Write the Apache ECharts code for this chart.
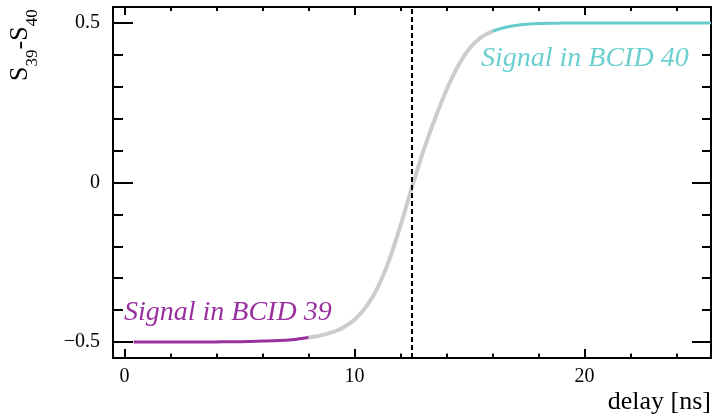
<!DOCTYPE html>
<html>
<head>
<meta charset="utf-8">
<script src="https://cdn.jsdelivr.net/npm/echarts@6/dist/echarts.min.js"></script>
<style>
html,body{margin:0;padding:0;background:#fff;}
#c{width:713px;height:416px;}
</style>
</head>
<body>
<div id="c"></div>
<script>
// ---- data ----
const delay = [0.4,1,1.5,2,2.5,3,3.5,4,4.5,5,5.5,6,6.5,7,7.5,8,8.5,9,9.5,10,10.5,11,11.5,12,12.5,13,13.5,14,14.5,15,15.5,16,16.5,17,17.5,18,18.5,19,19.5,20,20.5,21,21.5,22,22.5,23,23.5,24,24.5,25,25.5];
const signalDiff = [-0.5,-0.5,-0.5,-0.5,-0.5,-0.5,-0.4995,-0.4995,-0.499,-0.499,-0.498,-0.497,-0.496,-0.494,-0.491,-0.486,-0.48,-0.47,-0.455,-0.43,-0.39,-0.33,-0.245,-0.135,-0.015,0.1,0.2,0.29,0.365,0.42,0.455,0.474,0.485,0.492,0.496,0.498,0.499,0.4995,0.5,0.5,0.5,0.5,0.5,0.5,0.5,0.5,0.5,0.5,0.5,0.5,0.5];
const bcid39End = 8;     // end of "Signal in BCID 39" region
const bcid40Start = 16;  // start of "Signal in BCID 40" region
const thresholdDelay = 12.5;
const xMajorTicks = [0,10,20];
const xMinorTicks = [2,4,6,8,12,14,16,18,22,24];
const yMajorTicks = [-0.5,0,0.5];
const yMinorTicks = [-0.4,-0.3,-0.2,-0.1,0.1,0.2,0.3,0.4];
const xLabel = 'delay [ns]';
const label39 = 'Signal in BCID 39';
const label40 = 'Signal in BCID 40';

const pts = delay.map((d,i)=>[d, signalDiff[i]]);
const seg39 = pts.filter(p=>p[0] <= bcid39End);
const segMid = pts.filter(p=>p[0] >= bcid39End && p[0] <= bcid40Start);
const seg40 = pts.filter(p=>p[0] >= bcid40Start);

const FONT = '"Liberation Serif", "Times New Roman", serif';
const gridRect = {left:113, right:2, top:7, bottom:58};
const XMIN=-0.5, XMAX=25.5, YMIN=-0.55, YMAX=0.55;
const fmt = v => v < 0 ? '\u2212' + String(Math.abs(v)) : String(v);

function xAx(grid, pos, vals, len, showLine, showLabel){
  return {
    type:'value', gridIndex:grid, position:pos, min:XMIN, max:XMAX,
    axisLine:{show:showLine, onZero:false, lineStyle:{color:'#000', width:2}},
    axisTick:{show:true, inside:true, length:len, customValues:vals, lineStyle:{color:'#000', width:2}},
    axisLabel:{show:showLabel, customValues:vals, formatter:fmt, color:'#000', fontFamily:FONT, fontSize:20, margin:9},
    splitLine:{show:false}
  };
}
function yAx(grid, pos, vals, len, showLine, showLabel){
  return {
    type:'value', gridIndex:grid, position:pos, min:YMIN, max:YMAX,
    axisLine:{show:showLine, onZero:false, lineStyle:{color:'#000', width:2}},
    axisTick:{show:true, inside:true, length:len, customValues:vals, lineStyle:{color:'#000', width:2}},
    axisLabel:{show:showLabel, customValues:vals, formatter:fmt, color:'#000', fontFamily:FONT, fontSize:20, margin:13},
    splitLine:{show:false}
  };
}

const chart = echarts.init(document.getElementById('c'), null, {renderer:'canvas'});
const option = {
  animation:false,
  backgroundColor:'#fff',
  grid:[Object.assign({},gridRect),Object.assign({},gridRect),Object.assign({},gridRect),Object.assign({},gridRect)],
  xAxis:[
    xAx(0,'bottom',xMajorTicks,9,true,true),
    xAx(1,'bottom',xMinorTicks,4.5,false,false),
    xAx(2,'top',xMajorTicks,8,true,false),
    xAx(3,'top',xMinorTicks,4,false,false)
  ],
  yAxis:[
    yAx(0,'left',yMajorTicks,20,true,true),
    yAx(1,'left',yMinorTicks,10,false,false),
    yAx(2,'right',yMajorTicks,19,true,false),
    yAx(3,'right',yMinorTicks,9,false,false)
  ],
  series:[
    {type:'line', xAxisIndex:0, yAxisIndex:0, data:segMid, showSymbol:false, smooth:0.3, z:2,
     lineStyle:{color:'#cccccc', width:4}, silent:true,
     markLine:{silent:true, symbol:['none','none'], label:{show:false},
       lineStyle:{color:'#000', width:2, type:[5,3]},
       data:[{xAxis:thresholdDelay}]}},
    {type:'line', xAxisIndex:0, yAxisIndex:0, data:seg39, showSymbol:false, smooth:0.3, z:3,
     lineStyle:{color:'#9a2fa0', width:3}, silent:true},
    {type:'line', xAxisIndex:0, yAxisIndex:0, data:seg40, showSymbol:false, smooth:0.3, z:3,
     lineStyle:{color:'#66cccc', width:3}, silent:true}
  ],
  graphic:[
    {type:'text', right:2, top:389, style:{text:xLabel, fill:'#000', font:'26px '+FONT}},
    {type:'text', x:124, y:313, style:{text:label39, fill:'#9a2fa0', font:'italic 28px '+FONT, verticalAlign:'middle'}},
    {type:'text', x:481, y:59, style:{text:label40, fill:'#6ccfcf', font:'italic 28px '+FONT, verticalAlign:'middle'}},
    {type:'group', x:20, y:81, rotation:Math.PI/2, children:[
      {type:'text', x:0, y:0, style:{text:'S', fill:'#000', font:'26px '+FONT, verticalAlign:'middle'}},
      {type:'text', x:14.5, y:13, style:{text:'39', fill:'#000', font:'17px '+FONT, verticalAlign:'middle'}},
      {type:'text', x:31.5, y:0, style:{text:'-', fill:'#000', font:'26px '+FONT, verticalAlign:'middle'}},
      {type:'text', x:40.2, y:0, style:{text:'S', fill:'#000', font:'26px '+FONT, verticalAlign:'middle'}},
      {type:'text', x:54.7, y:13, style:{text:'40', fill:'#000', font:'17px '+FONT, verticalAlign:'middle'}}
    ]}
  ]
};
chart.setOption(option);
</script>
</body>
</html>
